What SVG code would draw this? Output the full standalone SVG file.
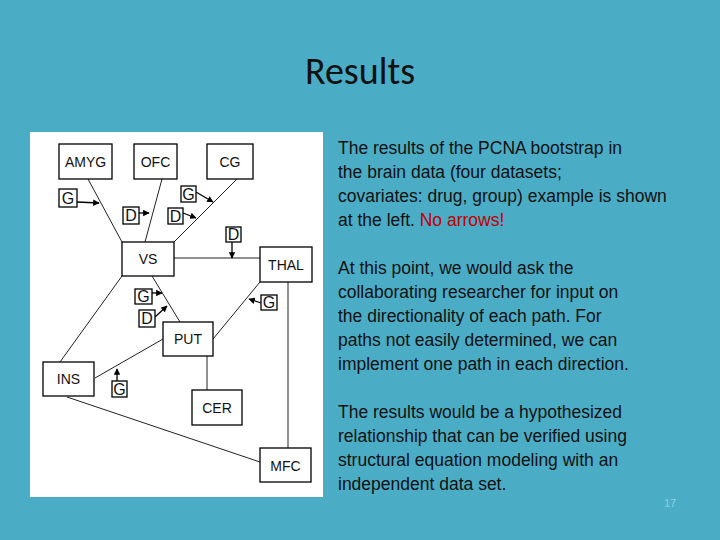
<svg xmlns="http://www.w3.org/2000/svg" width="720" height="540" viewBox="0 0 720 540">
<defs>
<marker id="ah" viewBox="0 0 10 10" refX="9" refY="5" markerWidth="5" markerHeight="5" orient="auto"><path d="M0,0L10,5L0,10z" fill="#000"/></marker>
<style>
.b{fill:#fff;stroke:#000;stroke-width:1.3}
.t{font-family:"Liberation Sans",Arial,sans-serif;font-size:14px;fill:#111;text-anchor:middle}
.s{font-family:"Liberation Sans",Arial,sans-serif;font-size:16px;fill:#111;text-anchor:middle}
.l{stroke:#222;stroke-width:1}
.a{stroke:#000;stroke-width:1.3;marker-end:url(#ah)}
.p{font-family:"Liberation Sans",Arial,sans-serif;font-size:17.5px;fill:#111}
</style>
</defs>
<rect width="720" height="540" fill="#4BACC6"/>
<text x="360" y="84" font-family="Calibri,'Open Sans',sans-serif" font-size="38" text-anchor="middle" fill="#111">Results</text>
<rect x="30" y="132" width="293" height="365" fill="#fff"/>
<g id="connectors">
<line class="l" x1="88" y1="179" x2="122" y2="242"/>
<line class="l" x1="162" y1="179" x2="145" y2="242"/>
<line class="l" x1="237" y1="179" x2="174" y2="242"/>
<line class="l" x1="174" y1="258" x2="260" y2="258"/>
<line class="l" x1="152" y1="276" x2="180" y2="322"/>
<line class="l" x1="122" y1="276" x2="60" y2="362"/>
<line class="l" x1="260" y1="282" x2="213" y2="339"/>
<line class="l" x1="288" y1="282" x2="288" y2="448"/>
<line class="l" x1="207" y1="356" x2="207" y2="390"/>
<line class="l" x1="95" y1="378" x2="163" y2="339"/>
<line class="l" x1="67" y1="397" x2="260" y2="462"/>
<line class="a" x1="77" y1="202" x2="99" y2="203"/>
<line class="a" x1="139" y1="213" x2="149" y2="213"/>
<line class="a" x1="196" y1="192" x2="213" y2="202"/>
<line class="a" x1="183" y1="213" x2="196" y2="218"/>
<line class="a" x1="232" y1="242" x2="232" y2="258"/>
<line class="a" x1="152" y1="293" x2="162" y2="293"/>
<line class="a" x1="155" y1="317" x2="167" y2="306"/>
<line class="a" x1="261" y1="303" x2="249" y2="299"/>
<line class="a" x1="117" y1="381" x2="117" y2="369"/>
</g>
<g id="AMYG"><rect class="b" x="59" y="144" width="53" height="35"/><text class="t" x="85.5" y="167">AMYG</text></g>
<g id="OFC"><rect class="b" x="134" y="144" width="43" height="35"/><text class="t" x="155.5" y="167">OFC</text></g>
<g id="CG"><rect class="b" x="207" y="144" width="46" height="35"/><text class="t" x="230" y="167">CG</text></g>
<g id="VS"><rect class="b" x="122" y="242" width="52" height="34"/><text class="t" x="148" y="264">VS</text></g>
<g id="THAL"><rect class="b" x="260" y="247" width="52" height="35"/><text class="t" x="286" y="270">THAL</text></g>
<g id="PUT"><rect class="b" x="163" y="322" width="50" height="34"/><text class="t" x="188" y="344">PUT</text></g>
<g id="INS"><rect class="b" x="43" y="362" width="51" height="34"/><text class="t" x="68.5" y="384">INS</text></g>
<g id="CER"><rect class="b" x="192" y="390" width="50" height="35"/><text class="t" x="217" y="413">CER</text></g>
<g id="MFC"><rect class="b" x="260" y="448" width="51" height="34"/><text class="t" x="285.5" y="471">MFC</text></g>
<g id="G1"><rect class="b" x="59" y="189" width="18" height="18"/><text class="s" x="68" y="204">G</text></g>
<g id="D1"><rect class="b" x="123" y="207" width="16" height="17"/><text class="s" x="131" y="221">D</text></g>
<g id="G2"><rect class="b" x="181" y="186" width="15" height="16"/><text class="s" x="188.5" y="200">G</text></g>
<g id="D2"><rect class="b" x="168" y="208" width="15" height="16"/><text class="s" x="175.5" y="222">D</text></g>
<g id="D3"><rect class="b" x="226" y="227" width="15" height="15"/><text class="s" x="233.5" y="240">D</text></g>
<g id="G3"><rect class="b" x="135" y="289" width="17" height="15"/><text class="s" x="143.5" y="302">G</text></g>
<g id="D4"><rect class="b" x="139" y="310" width="16" height="17"/><text class="s" x="147" y="324">D</text></g>
<g id="G4"><rect class="b" x="261" y="295" width="16" height="15"/><text class="s" x="269" y="308">G</text></g>
<g id="G5"><rect class="b" x="112" y="381" width="15" height="16"/><text class="s" x="119.5" y="395">G</text></g>
<g id="text">
<text class="p" x="338" y="154">The results of the PCNA bootstrap in</text>
<text class="p" x="338" y="178">the brain data (four datasets;</text>
<text class="p" x="338" y="202">covariates: drug, group) example is shown</text>
<text class="p" x="338" y="226">at the left. <tspan fill="#C00000">No arrows!</tspan></text>
<text class="p" x="338" y="274">At this point, we would ask the</text>
<text class="p" x="338" y="298">collaborating researcher for input on</text>
<text class="p" x="338" y="322">the directionality of each path. For</text>
<text class="p" x="338" y="346">paths not easily determined, we can</text>
<text class="p" x="338" y="370">implement one path in each direction.</text>
<text class="p" x="338" y="418">The results would be a hypothesized</text>
<text class="p" x="338" y="442">relationship that can be verified using</text>
<text class="p" x="338" y="466">structural equation modeling with an</text>
<text class="p" x="338" y="490">independent data set.</text>
<text x="670" y="507" font-family="'Liberation Sans',sans-serif" font-size="11" fill="#8fd0e0" text-anchor="middle">17</text>
</g>
</svg>
